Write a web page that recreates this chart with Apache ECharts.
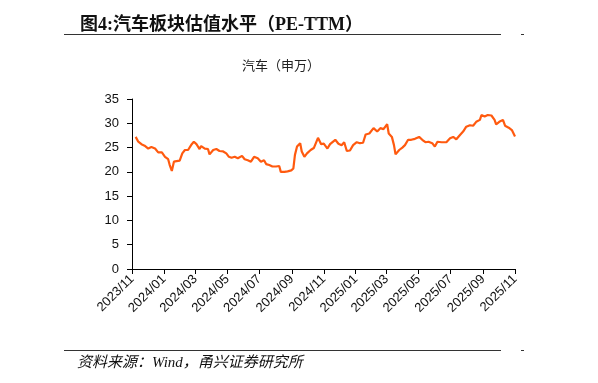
<!DOCTYPE html>
<html>
<head>
<meta charset="utf-8">
<script src="https://cdn.jsdelivr.net/npm/echarts@6/dist/echarts.min.js"></script>
<style>
html,body{margin:0;padding:0;background:#fff;}
#c{width:598px;height:383px;}
</style>
</head>
<body>
<div id="c"></div>
<script>
const dates = [
'2023-11-08','2023-11-13','2023-11-19','2023-11-25','2023-12-02','2023-12-08','2023-12-15','2023-12-21','2023-12-28',
'2024-01-03','2024-01-09','2024-01-12','2024-01-16','2024-01-20','2024-01-25','2024-01-31','2024-02-05','2024-02-10',
'2024-02-16','2024-02-23','2024-02-27','2024-03-03','2024-03-09','2024-03-12','2024-03-19','2024-03-25','2024-03-28',
'2024-04-04','2024-04-10','2024-04-16','2024-04-23','2024-04-29','2024-05-04','2024-05-09','2024-05-15','2024-05-21',
'2024-05-29','2024-06-03','2024-06-09','2024-06-15','2024-06-21','2024-06-28','2024-07-04','2024-07-10','2024-07-14',
'2024-07-20','2024-07-26','2024-08-02','2024-08-08','2024-08-11','2024-08-18','2024-08-24','2024-08-31','2024-09-04',
'2024-09-07','2024-09-11','2024-09-17','2024-09-20','2024-09-25','2024-09-30','2024-10-07','2024-10-13','2024-10-21',
'2024-10-27','2024-11-01','2024-11-08','2024-11-13','2024-11-23','2024-11-29','2024-12-05','2024-12-10','2024-12-15',
'2024-12-21','2024-12-27','2025-01-03','2025-01-09','2025-01-15','2025-01-20','2025-01-27','2025-02-04','2025-02-11',
'2025-02-17','2025-02-23','2025-03-02','2025-03-05','2025-03-11','2025-03-15','2025-03-18','2025-03-25','2025-03-31',
'2025-04-05','2025-04-11','2025-04-17','2025-04-24','2025-05-02','2025-05-08','2025-05-14','2025-05-20','2025-05-27',
'2025-06-01','2025-06-06','2025-06-14','2025-06-23','2025-06-30','2025-07-06','2025-07-12','2025-07-19','2025-07-25',
'2025-07-31','2025-08-07','2025-08-13','2025-08-19','2025-08-26','2025-08-29','2025-09-04','2025-09-10','2025-09-17',
'2025-09-23','2025-09-26','2025-10-02','2025-10-09','2025-10-13','2025-10-20','2025-10-26','2025-11-01'
];
const peValues = [
27.2,26.2,25.7,25.4,24.8,25.1,24.8,24.0,24.0,
23.1,22.6,21.4,20.2,22.1,22.2,22.3,23.8,24.5,
24.5,25.7,26.2,25.7,24.7,25.3,24.8,24.7,23.6,
24.5,24.7,24.3,24.2,23.8,23.1,22.9,23.1,22.8,
23.3,22.6,22.4,22.1,23.1,22.8,22.1,22.4,21.6,
21.4,21.1,21.1,21.2,20.0,20.0,20.1,20.3,20.7,
23.5,25.2,25.9,24.2,23.1,23.8,24.5,24.9,27.0,
25.7,25.8,24.8,25.7,26.6,25.8,25.5,26.1,24.3,
24.4,25.5,26.1,25.9,26.0,27.7,27.9,29.0,28.3,
29.0,28.8,29.8,27.9,27.2,25.5,23.6,24.5,25.0,
25.5,26.6,26.6,26.8,27.2,26.6,26.1,26.2,25.9,
25.2,26.2,26.1,26.1,26.9,27.2,26.7,27.6,28.3,
29.3,29.6,29.5,30.3,30.7,31.7,31.4,31.7,31.6,
30.7,29.8,30.3,30.7,29.5,29.1,28.6,27.3
];
const tickDates = ['2023-11-01','2024-01-01','2024-03-01','2024-05-01','2024-07-01','2024-09-01','2024-11-01',
'2025-01-01','2025-03-01','2025-05-01','2025-07-01','2025-09-01','2025-11-01'];
const tickLabels = ['2023/11','2024/01','2024/03','2024/05','2024/07','2024/09','2024/11',
'2025/01','2025/03','2025/05','2025/07','2025/09','2025/11'];

const ts = s => { const p = s.split('-'); return Date.UTC(+p[0], +p[1]-1, +p[2]); };
const tickTs = tickDates.map(ts);
const labelMap = {};
tickTs.forEach((t,i)=>{ labelMap[t] = tickLabels[i]; });

const chart = echarts.init(document.getElementById('c'), null, {renderer:'canvas'});
chart.setOption({
  animation:false,
  backgroundColor:'#ffffff',
  title:[
    {text:'图4:汽车板块估值水平（PE-TTM）', left:75, top:11,
     textStyle:{fontFamily:'Liberation Serif, "Noto Sans CJK SC"', fontWeight:'bold', fontSize:18, color:'#111'}},
    {text:'汽车（申万）', left:237, top:54,
     textStyle:{fontFamily:'"Noto Sans CJK SC"', fontWeight:'normal', fontSize:13, color:'#222'}}
  ],
  grid:{left:132, right:83, top:99, bottom:114, containLabel:false},
  xAxis:{
    type:'value',
    min:tickTs[0], max:tickTs[tickTs.length-1],
    axisLine:{show:true, lineStyle:{color:'#000', width:1}},
    axisTick:{show:true, length:5, lineStyle:{color:'#000'}, customValues:tickTs},
    axisLabel:{show:true, rotate:45, margin:8, fontSize:13, color:'#111', fontFamily:'Liberation Sans, Arial',
      customValues:tickTs,
      formatter:function(v){ return labelMap[v] || ''; }},
    splitLine:{show:false}
  },
  yAxis:{
    type:'value', min:0, max:35, interval:5,
    axisLine:{show:true, lineStyle:{color:'#000', width:1}},
    axisTick:{show:true, length:5, lineStyle:{color:'#000'}},
    axisLabel:{fontSize:13, color:'#111', margin:13, fontFamily:'Liberation Sans, Arial'},
    splitLine:{show:false}
  },
  series:[{
    type:'line', name:'汽车（申万）',
    data: dates.map((d,i)=>[ts(d), peValues[i]]),
    showSymbol:false, symbol:'none',
    lineStyle:{color:'#FF5A0F', width:2.2},
    itemStyle:{color:'#FF5A0F'}
  }],
  graphic:[
    {type:'line', shape:{x1:64,y1:34.5,x2:501,y2:34.5}, style:{stroke:'#333', lineWidth:1}},
    {type:'line', shape:{x1:521,y1:34.5,x2:524,y2:34.5}, style:{stroke:'#333', lineWidth:1}},
    {type:'line', shape:{x1:64,y1:350.5,x2:501,y2:350.5}, style:{stroke:'#333', lineWidth:1}},
    {type:'line', shape:{x1:521,y1:350.5,x2:524,y2:350.5}, style:{stroke:'#333', lineWidth:1}},
    {type:'text', left:77, top:356, style:{text:'资料来源：Wind，甬兴证券研究所',
      font:'italic 15px "Liberation Serif", "Noto Sans CJK SC"', fill:'#111'}}
  ]
});
</script>
</body>
</html>
